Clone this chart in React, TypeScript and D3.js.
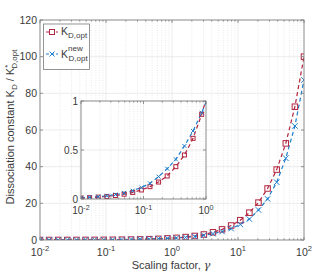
import * as d3 from 'd3';
import { useEffect, useRef } from 'react';

// scaling factor gamma (log-spaced samples)
const gammaValues = [
  0.01, 0.01374, 0.01887, 0.02593, 0.03562, 0.04894, 0.06723, 0.09237, 0.1269, 0.1743,
  0.2395, 0.329, 0.452, 0.621, 0.8532, 1.172, 1.61, 2.212, 3.039, 4.175,
  5.736, 7.88, 10.83, 14.87, 20.43, 28.07, 38.57, 52.98, 72.79, 100,
];
// K_D,opt / K*_D,opt
const kdOpt = [
  0.01, 0.014, 0.019, 0.026, 0.036, 0.049, 0.067, 0.092, 0.126, 0.173,
  0.235, 0.33, 0.449, 0.619, 0.864, 1.17, 1.6, 2.2, 3.0, 4.2,
  5.8, 7.9, 10.8, 14.9, 20.4, 28.1, 38.4, 52.7, 72.7, 100,
];
// K^new_D,opt / K*_D,opt
const kdNew = [
  0.013, 0.018, 0.024, 0.033, 0.045, 0.062, 0.085, 0.117, 0.16, 0.228,
  0.309, 0.405, 0.541, 0.694, 0.88, 1.1, 1.42, 1.9, 2.55, 3.45,
  4.6, 6.2, 8.5, 11.4, 16.4, 22.4, 31.5, 44.6, 62.2, 87.3,
];

const mainYTicks = [0, 20, 40, 60, 80, 100, 120];
const insetYTicks = [0, 0.5, 1];
const insetYLabels = ['0', '0.5', '1'];
const mainDecades = [-2, -1, 0, 1, 2];
const insetDecades = [-2, -1, 0];

const RED = '#b3243f';
const BLUE = '#1f7fcc';
const FONT = 'Liberation Sans, Arial, sans-serif';
const TEXT = '#3a3a3a';
const AXIS = '#7a7a7a';

type Pt = { x: number; y: number };

const App = () => {
  const svgRef = useRef<SVGSVGElement | null>(null);

  useEffect(() => {
    if (!svgRef.current) return;
    const svg = d3.select(svgRef.current).html('');

    const optPts: Pt[] = gammaValues.map((g, i) => ({ x: g, y: kdOpt[i] }));
    const newPts: Pt[] = gammaValues.map((g, i) => ({ x: g, y: kdNew[i] }));

    const defs = svg.append('defs');

    const drawPanel = (opts: {
      x0: number; x1: number; y0: number; y1: number;
      xDomain: [number, number]; yDomain: [number, number];
      yTicks: number[]; yLabels: string[]; decades: number[];
      marker: number; id: string; labelSize: number; xLabelY: number;
    }) => {
      const { x0, x1, y0, y1 } = opts;
      const x = d3.scaleLog().domain(opts.xDomain).range([x0, x1]);
      const y = d3.scaleLinear().domain(opts.yDomain).range([y1, y0]);
      const g = svg.append('g');

      g.append('rect')
        .attr('x', x0).attr('y', y0)
        .attr('width', x1 - x0).attr('height', y1 - y0)
        .attr('fill', '#fff');

      // grid
      const minor = x.ticks().filter(t => !opts.decades.some(d => Math.abs(Math.log10(t) - d) < 1e-6));
      g.selectAll('.minor').data(minor).enter().append('line')
        .attr('x1', d => x(d)).attr('x2', d => x(d))
        .attr('y1', y0).attr('y2', y1)
        .attr('stroke', '#dcdcdc').attr('stroke-width', 0.6)
        .attr('stroke-dasharray', '1,1.5');
      g.selectAll('.majx').data(opts.decades).enter().append('line')
        .attr('x1', d => x(10 ** d)).attr('x2', d => x(10 ** d))
        .attr('y1', y0).attr('y2', y1)
        .attr('stroke', '#e4e4e4').attr('stroke-width', 0.7);
      g.selectAll('.majy').data(opts.yTicks).enter().append('line')
        .attr('x1', x0).attr('x2', x1)
        .attr('y1', d => y(d)).attr('y2', d => y(d))
        .attr('stroke', '#e4e4e4').attr('stroke-width', 0.7);

      // data
      const clip = defs.append('clipPath').attr('id', opts.id);
      clip.append('rect').attr('x', x0).attr('y', y0).attr('width', x1 - x0).attr('height', y1 - y0);
      const data = g.append('g').attr('clip-path', `url(#${opts.id})`);
      const line = d3.line<Pt>().x(d => x(d.x)).y(d => y(d.y));
      data.append('path').datum(optPts)
        .attr('fill', 'none').attr('stroke', RED).attr('stroke-width', 1.2)
        .attr('stroke-dasharray', '4,3').attr('d', line);
      data.append('path').datum(newPts)
        .attr('fill', 'none').attr('stroke', BLUE).attr('stroke-width', 1.2)
        .attr('stroke-dasharray', '4,3').attr('d', line);

      const inside = (d: Pt) => d.x >= opts.xDomain[0] * 0.999 && d.x <= opts.xDomain[1] * 1.001 && d.y <= opts.yDomain[1] * 1.001;
      const m = opts.marker;
      data.selectAll('.sq').data(optPts.filter(inside)).enter().append('rect')
        .attr('x', d => x(d.x) - m / 2).attr('y', d => y(d.y) - m / 2)
        .attr('width', m).attr('height', m)
        .attr('fill', 'none').attr('stroke', RED).attr('stroke-width', 1);
      data.selectAll('.cr').data(newPts.filter(inside)).enter().append('path')
        .attr('d', d => {
          const cx = x(d.x), cy = y(d.y), h = m / 2;
          return `M${cx - h},${cy - h}L${cx + h},${cy + h}M${cx - h},${cy + h}L${cx + h},${cy - h}`;
        })
        .attr('stroke', BLUE).attr('stroke-width', 1);

      // box and ticks
      g.append('rect')
        .attr('x', x0).attr('y', y0)
        .attr('width', x1 - x0).attr('height', y1 - y0)
        .attr('fill', 'none').attr('stroke', AXIS).attr('stroke-width', 0.8);
      const tickPath = d3.path();
      opts.decades.forEach(d => {
        const px = x(10 ** d);
        tickPath.moveTo(px, y1); tickPath.lineTo(px, y1 - 3);
        tickPath.moveTo(px, y0); tickPath.lineTo(px, y0 + 3);
      });
      minor.forEach(t => {
        const px = x(t);
        tickPath.moveTo(px, y1); tickPath.lineTo(px, y1 - 1.6);
        tickPath.moveTo(px, y0); tickPath.lineTo(px, y0 + 1.6);
      });
      opts.yTicks.forEach(t => {
        const py = y(t);
        tickPath.moveTo(x0, py); tickPath.lineTo(x0 + 3, py);
        tickPath.moveTo(x1, py); tickPath.lineTo(x1 - 3, py);
      });
      g.append('path').attr('d', tickPath.toString())
        .attr('stroke', AXIS).attr('stroke-width', 0.8).attr('fill', 'none');

      // tick labels
      g.selectAll('.yl').data(opts.yTicks).enter().append('text')
        .attr('x', x0 - 3).attr('y', d => y(d) + opts.labelSize * 0.36)
        .attr('text-anchor', 'end')
        .attr('font-size', opts.labelSize).attr('fill', TEXT)
        .text((d, i) => opts.yLabels[i]);
      opts.decades.forEach(d => {
        const t = g.append('text')
          .attr('x', x(10 ** d)).attr('y', opts.xLabelY)
          .attr('text-anchor', 'middle')
          .attr('font-size', opts.labelSize).attr('fill', TEXT);
        t.append('tspan').text('10');
        t.append('tspan').attr('dy', -opts.labelSize * 0.45)
          .attr('font-size', opts.labelSize * 0.72).text(String(d));
      });
    };

    drawPanel({
      x0: 40, x1: 304, y0: 20, y1: 240,
      xDomain: [0.01, 100], yDomain: [0, 120],
      yTicks: mainYTicks, yLabels: mainYTicks.map(String), decades: mainDecades,
      marker: 5.5, id: 'clip-main', labelSize: 10.5, xLabelY: 256,
    });

    // legend
    const lg = svg.append('g').attr('font-family', FONT).attr('fill', TEXT);
    lg.append('rect').attr('x', 43.5).attr('y', 24).attr('width', 46).attr('height', 45.5)
      .attr('fill', '#fff').attr('stroke', AXIS).attr('stroke-width', 0.8);
    lg.append('line').attr('x1', 46).attr('x2', 58).attr('y1', 32).attr('y2', 32)
      .attr('stroke', RED).attr('stroke-width', 1.2).attr('stroke-dasharray', '3,2');
    lg.append('rect').attr('x', 49.5).attr('y', 29.5).attr('width', 5).attr('height', 5)
      .attr('fill', '#fff').attr('stroke', RED);
    lg.append('line').attr('x1', 46).attr('x2', 58).attr('y1', 54).attr('y2', 54)
      .attr('stroke', BLUE).attr('stroke-width', 1.2).attr('stroke-dasharray', '3,2');
    lg.append('path').attr('d', 'M49.5,51.5L54.5,56.5M49.5,56.5L54.5,51.5')
      .attr('stroke', BLUE).attr('stroke-width', 1);
    const l1 = lg.append('text').attr('x', 61).attr('y', 35).attr('font-size', 10.5);
    l1.append('tspan').text('K');
    l1.append('tspan').attr('dy', 3).attr('font-size', 8).text('D,opt');
    const l2 = lg.append('text').attr('x', 61).attr('y', 58).attr('font-size', 10.5);
    l2.append('tspan').text('K');
    l2.append('tspan').attr('dy', -7).attr('font-size', 8).text('new');
    l2.append('tspan').attr('x', 68.5).attr('y', 61).attr('font-size', 8).text('D,opt');

    // inset
    drawPanel({
      x0: 81, x1: 206, y0: 101, y1: 199,
      xDomain: [0.01, 1], yDomain: [0, 1],
      yTicks: insetYTicks, yLabels: insetYLabels, decades: insetDecades,
      marker: 4, id: 'clip-inset', labelSize: 10, xLabelY: 214,
    });

    // axis labels
    const xl = svg.append('text')
      .attr('x', 171).attr('y', 268.5).attr('text-anchor', 'middle')
      .attr('font-family', FONT).attr('font-size', 11).attr('fill', TEXT);
    xl.append('tspan').text('Scaling factor, ');
    xl.append('tspan').attr('font-family', 'DejaVu Serif, serif').attr('font-style', 'italic').text('γ');

    const yl = svg.append('text')
      .attr('transform', 'translate(14,127) rotate(-90)')
      .attr('text-anchor', 'middle')
      .attr('font-family', FONT).attr('font-size', 11).attr('fill', TEXT);
    yl.append('tspan').text('Dissociation constant K');
    yl.append('tspan').attr('dy', 3).attr('font-size', 8).text('D');
    yl.append('tspan').attr('dy', -3).text(' / K');
    yl.append('tspan').attr('dy', -4).attr('font-size', 8).text('*');
    yl.append('tspan').attr('dx', -4).attr('dy', 7).attr('font-size', 8).text('D,opt');

    svg.selectAll('text').filter(function () {
      return !(this as SVGTextElement).getAttribute('font-family');
    }).attr('font-family', FONT);
  }, []);

  return (
    <svg
      ref={svgRef}
      width={316}
      height={272}
      style={{ position: 'absolute', left: 0, top: 0, background: '#fff' }}
    />
  );
};

export default App;
